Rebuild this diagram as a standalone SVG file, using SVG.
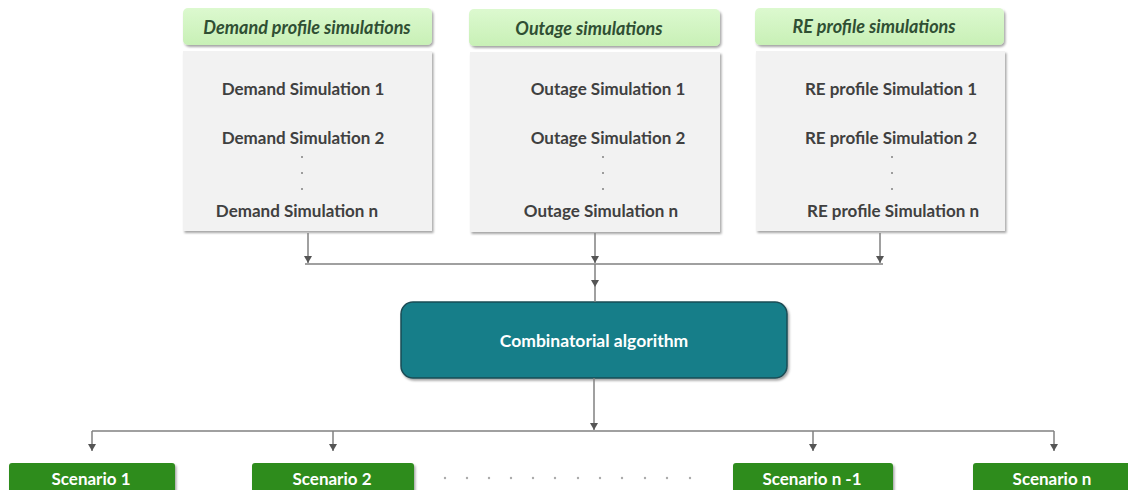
<svg xmlns="http://www.w3.org/2000/svg" width="1128" height="490" viewBox="0 0 1128 490">
<defs>
<linearGradient id="hdr" x1="0" y1="0" x2="0" y2="1">
<stop offset="0" stop-color="#dcf9cf"/>
<stop offset="1" stop-color="#c8f0b6"/>
</linearGradient>
<filter id="sh" x="-5%" y="-10%" width="112%" height="130%">
<feDropShadow dx="1.5" dy="2" stdDeviation="1.2" flood-color="#000" flood-opacity="0.35"/>
</filter>
<marker id="ah" viewBox="0 0 7 8" refX="7" refY="4" markerWidth="7" markerHeight="8" markerUnits="userSpaceOnUse" orient="auto">
<path d="M0,0 L7,4 L0,8 Z" fill="#555"/>
</marker>
<style>
.hdr{fill:url(#hdr);filter:url(#sh)}
.body{fill:#f2f2f2;filter:url(#sh)}
.ht{font-family:Lato,"Liberation Sans",sans-serif;font-style:italic;font-weight:bold;font-size:18px;fill:#2f4f33;text-anchor:middle;dominant-baseline:central}
.bt{font-family:Lato,"Liberation Sans",sans-serif;font-weight:bold;font-size:17px;fill:#404040;text-anchor:middle;dominant-baseline:central}
.dot{fill:#808080}
.ln{stroke:#808080;stroke-width:1.5;fill:none}
.alg{fill:#137e89;stroke:#1d4c55;stroke-width:1.5;filter:url(#sh)}
.at{font-family:Lato,"Liberation Sans",sans-serif;font-weight:bold;font-size:17.5px;fill:#ffffff;text-anchor:middle;dominant-baseline:central}
.sc{fill:#2f8c1c;filter:url(#sh)}
.st{font-family:Lato,"Liberation Sans",sans-serif;font-weight:bold;font-size:17px;fill:#ffffff;text-anchor:middle;dominant-baseline:central}
.gd{fill:#aaaaaa}
</style>
</defs>
<rect width="1128" height="490" fill="#ffffff"/>

<g id="demand">
<rect class="body" x="183" y="51" width="249" height="180"/>
<rect class="hdr" x="183" y="8" width="249" height="37" rx="5"/>
<text class="ht" x="307" y="27">Demand profile simulations</text>
<text class="bt" x="303" y="88">Demand Simulation 1</text>
<text class="bt" x="303" y="137">Demand Simulation 2</text>
<circle class="dot" cx="302" cy="157" r="1"/>
<circle class="dot" cx="302" cy="173" r="1"/>
<circle class="dot" cx="302" cy="189" r="1"/>
<text class="bt" x="297" y="210">Demand Simulation n</text>
</g>

<g id="outage">
<rect class="body" x="470" y="52" width="250" height="180"/>
<rect class="hdr" x="469" y="9" width="251" height="37" rx="5"/>
<text class="ht" x="589" y="28">Outage simulations</text>
<text class="bt" x="608" y="88">Outage Simulation 1</text>
<text class="bt" x="608" y="137">Outage Simulation 2</text>
<circle class="dot" cx="603" cy="157" r="1"/>
<circle class="dot" cx="603" cy="173" r="1"/>
<circle class="dot" cx="603" cy="189" r="1"/>
<text class="bt" x="601" y="210">Outage Simulation n</text>
</g>

<g id="re">
<rect class="body" x="756" y="51" width="249" height="180"/>
<rect class="hdr" x="755" y="8" width="249" height="37" rx="5"/>
<text class="ht" x="874" y="26">RE profile simulations</text>
<text class="bt" x="891" y="88">RE profile Simulation 1</text>
<text class="bt" x="891" y="137">RE profile Simulation 2</text>
<circle class="dot" cx="892" cy="157" r="1"/>
<circle class="dot" cx="892" cy="173" r="1"/>
<circle class="dot" cx="892" cy="189" r="1"/>
<text class="bt" x="893" y="210">RE profile Simulation n</text>
</g>

<g id="combinatorial">
<rect class="alg" x="401" y="302" width="386" height="76" rx="12"/>
<text class="at" x="594" y="340">Combinatorial algorithm</text>
</g>

<g id="scenario1">
<rect class="sc" x="9" y="463" width="166" height="34" rx="3"/>
<text class="st" x="91" y="478">Scenario 1</text>
</g>
<g id="scenario2">
<rect class="sc" x="252" y="463" width="162" height="34" rx="3"/>
<text class="st" x="332" y="478">Scenario 2</text>
</g>
<g id="scenarion1">
<rect class="sc" x="733" y="463" width="160" height="34" rx="3"/>
<text class="st" x="812" y="478">Scenario n -1</text>
</g>
<g id="scenarion">
<rect class="sc" x="973" y="463" width="162" height="34" rx="3"/>
<text class="st" x="1052" y="478">Scenario n</text>
</g>

<g id="ellipsis">
<circle class="gd" cx="445" cy="478" r="1.2"/>
<circle class="gd" cx="467" cy="478" r="1.2"/>
<circle class="gd" cx="489" cy="478" r="1.2"/>
<circle class="gd" cx="511" cy="478" r="1.2"/>
<circle class="gd" cx="533" cy="478" r="1.2"/>
<circle class="gd" cx="555" cy="478" r="1.2"/>
<circle class="gd" cx="578" cy="478" r="1.2"/>
<circle class="gd" cx="600" cy="478" r="1.2"/>
<circle class="gd" cx="622" cy="478" r="1.2"/>
<circle class="gd" cx="645" cy="478" r="1.2"/>
<circle class="gd" cx="667" cy="478" r="1.2"/>
<circle class="gd" cx="690" cy="478" r="1.2"/>
</g>

<g id="connectors">
<path class="ln" d="M308,233 V263" marker-end="url(#ah)"/>
<path class="ln" d="M595,233 V263" marker-end="url(#ah)"/>
<path class="ln" d="M880,233 V263" marker-end="url(#ah)"/>
<path class="ln" d="M305,264 H883"/>
<path class="ln" d="M595,264 V287" marker-end="url(#ah)"/>
<path class="ln" d="M595,287 V302"/>
<path class="ln" d="M594,378 V430" marker-end="url(#ah)"/>
<path class="ln" d="M92,431 H1054"/>
<path class="ln" d="M92,431 V451" marker-end="url(#ah)"/>
<path class="ln" d="M333,431 V451" marker-end="url(#ah)"/>
<path class="ln" d="M813,431 V451" marker-end="url(#ah)"/>
<path class="ln" d="M1054,431 V451" marker-end="url(#ah)"/>
</g>
</svg>
